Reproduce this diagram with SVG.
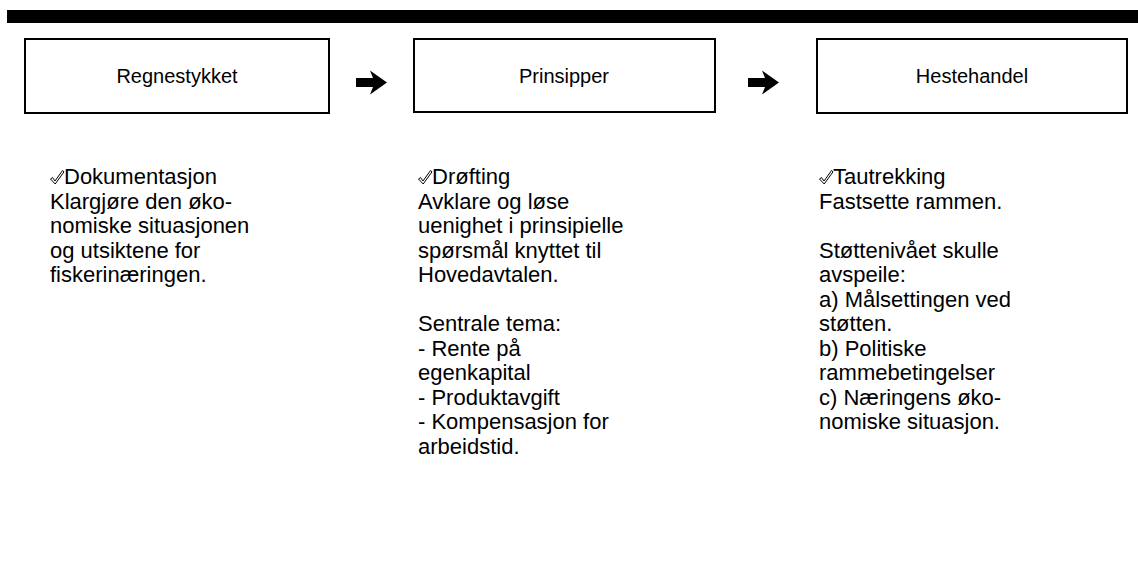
<svg xmlns="http://www.w3.org/2000/svg" width="1138" height="567" viewBox="0 0 1138 567">
<style>
.box{fill:#fff;stroke:#000;stroke-width:2}
.lbl{font-family:"Liberation Sans",Arial,sans-serif;font-size:20px;fill:#000;text-anchor:middle}
.txt{font-family:"Liberation Sans",Arial,sans-serif;font-size:22px;fill:#000}
.chk{fill:#fff;stroke:#000;stroke-width:1;stroke-linejoin:round}
.arr{fill:#000}
</style>
<defs>
<path id="arrow" d="M0,-4.5 L17,-4.5 L14,-12 L31,0 L14,12 L17,4.5 L0,4.5 Z"/>
<path id="check" d="M0.5,9 L2.5,7.5 L5,11 L12.5,0.5 L14,1.8 L5.2,14 Z"/>
</defs>
<rect x="7" y="10" width="1131" height="13" fill="#000"/>
<g id="regnestykket">
<rect class="box" x="25" y="39" width="304" height="74"/>
<text class="lbl" x="177" y="83">Regnestykket</text>
</g>
<g id="prinsipper">
<rect class="box" x="414" y="39" width="301" height="73"/>
<text class="lbl" x="564" y="83">Prinsipper</text>
</g>
<g id="hestehandel">
<rect class="box" x="817" y="39" width="310" height="74"/>
<text class="lbl" x="972" y="83">Hestehandel</text>
</g>
<g id="connectors">
<use href="#arrow" class="arr" transform="translate(356,82.5)"/>
<use href="#arrow" class="arr" transform="translate(748,82.5)"/>
</g>
<g id="col1" class="txt">
<use href="#check" class="chk" transform="translate(50,170)"/>
<text x="64" y="184">Dokumentasjon</text>
<text x="50" y="209">Klargjøre den øko-</text>
<text x="50" y="233">nomiske situasjonen</text>
<text x="50" y="258">og utsiktene for</text>
<text x="50" y="282">fiskerinæringen.</text>
</g>
<g id="col2" class="txt">
<use href="#check" class="chk" transform="translate(418,170)"/>
<text x="432" y="184">Drøfting</text>
<text x="418" y="209">Avklare og løse</text>
<text x="418" y="233">uenighet i prinsipielle</text>
<text x="418" y="258">spørsmål knyttet til</text>
<text x="418" y="282">Hovedavtalen.</text>
<text x="418" y="331">Sentrale tema:</text>
<text x="418" y="356">- Rente på</text>
<text x="418" y="380">egenkapital</text>
<text x="418" y="405">- Produktavgift</text>
<text x="418" y="429">- Kompensasjon for</text>
<text x="418" y="454">arbeidstid.</text>
</g>
<g id="col3" class="txt">
<use href="#check" class="chk" transform="translate(819,170)"/>
<text x="833" y="184">Tautrekking</text>
<text x="819" y="209">Fastsette rammen.</text>
<text x="819" y="258">Støttenivået skulle</text>
<text x="819" y="282">avspeile:</text>
<text x="819" y="307">a) Målsettingen ved</text>
<text x="819" y="331">støtten.</text>
<text x="819" y="356">b) Politiske</text>
<text x="819" y="380">rammebetingelser</text>
<text x="819" y="405">c) Næringens øko-</text>
<text x="819" y="429">nomiske situasjon.</text>
</g>
</svg>
